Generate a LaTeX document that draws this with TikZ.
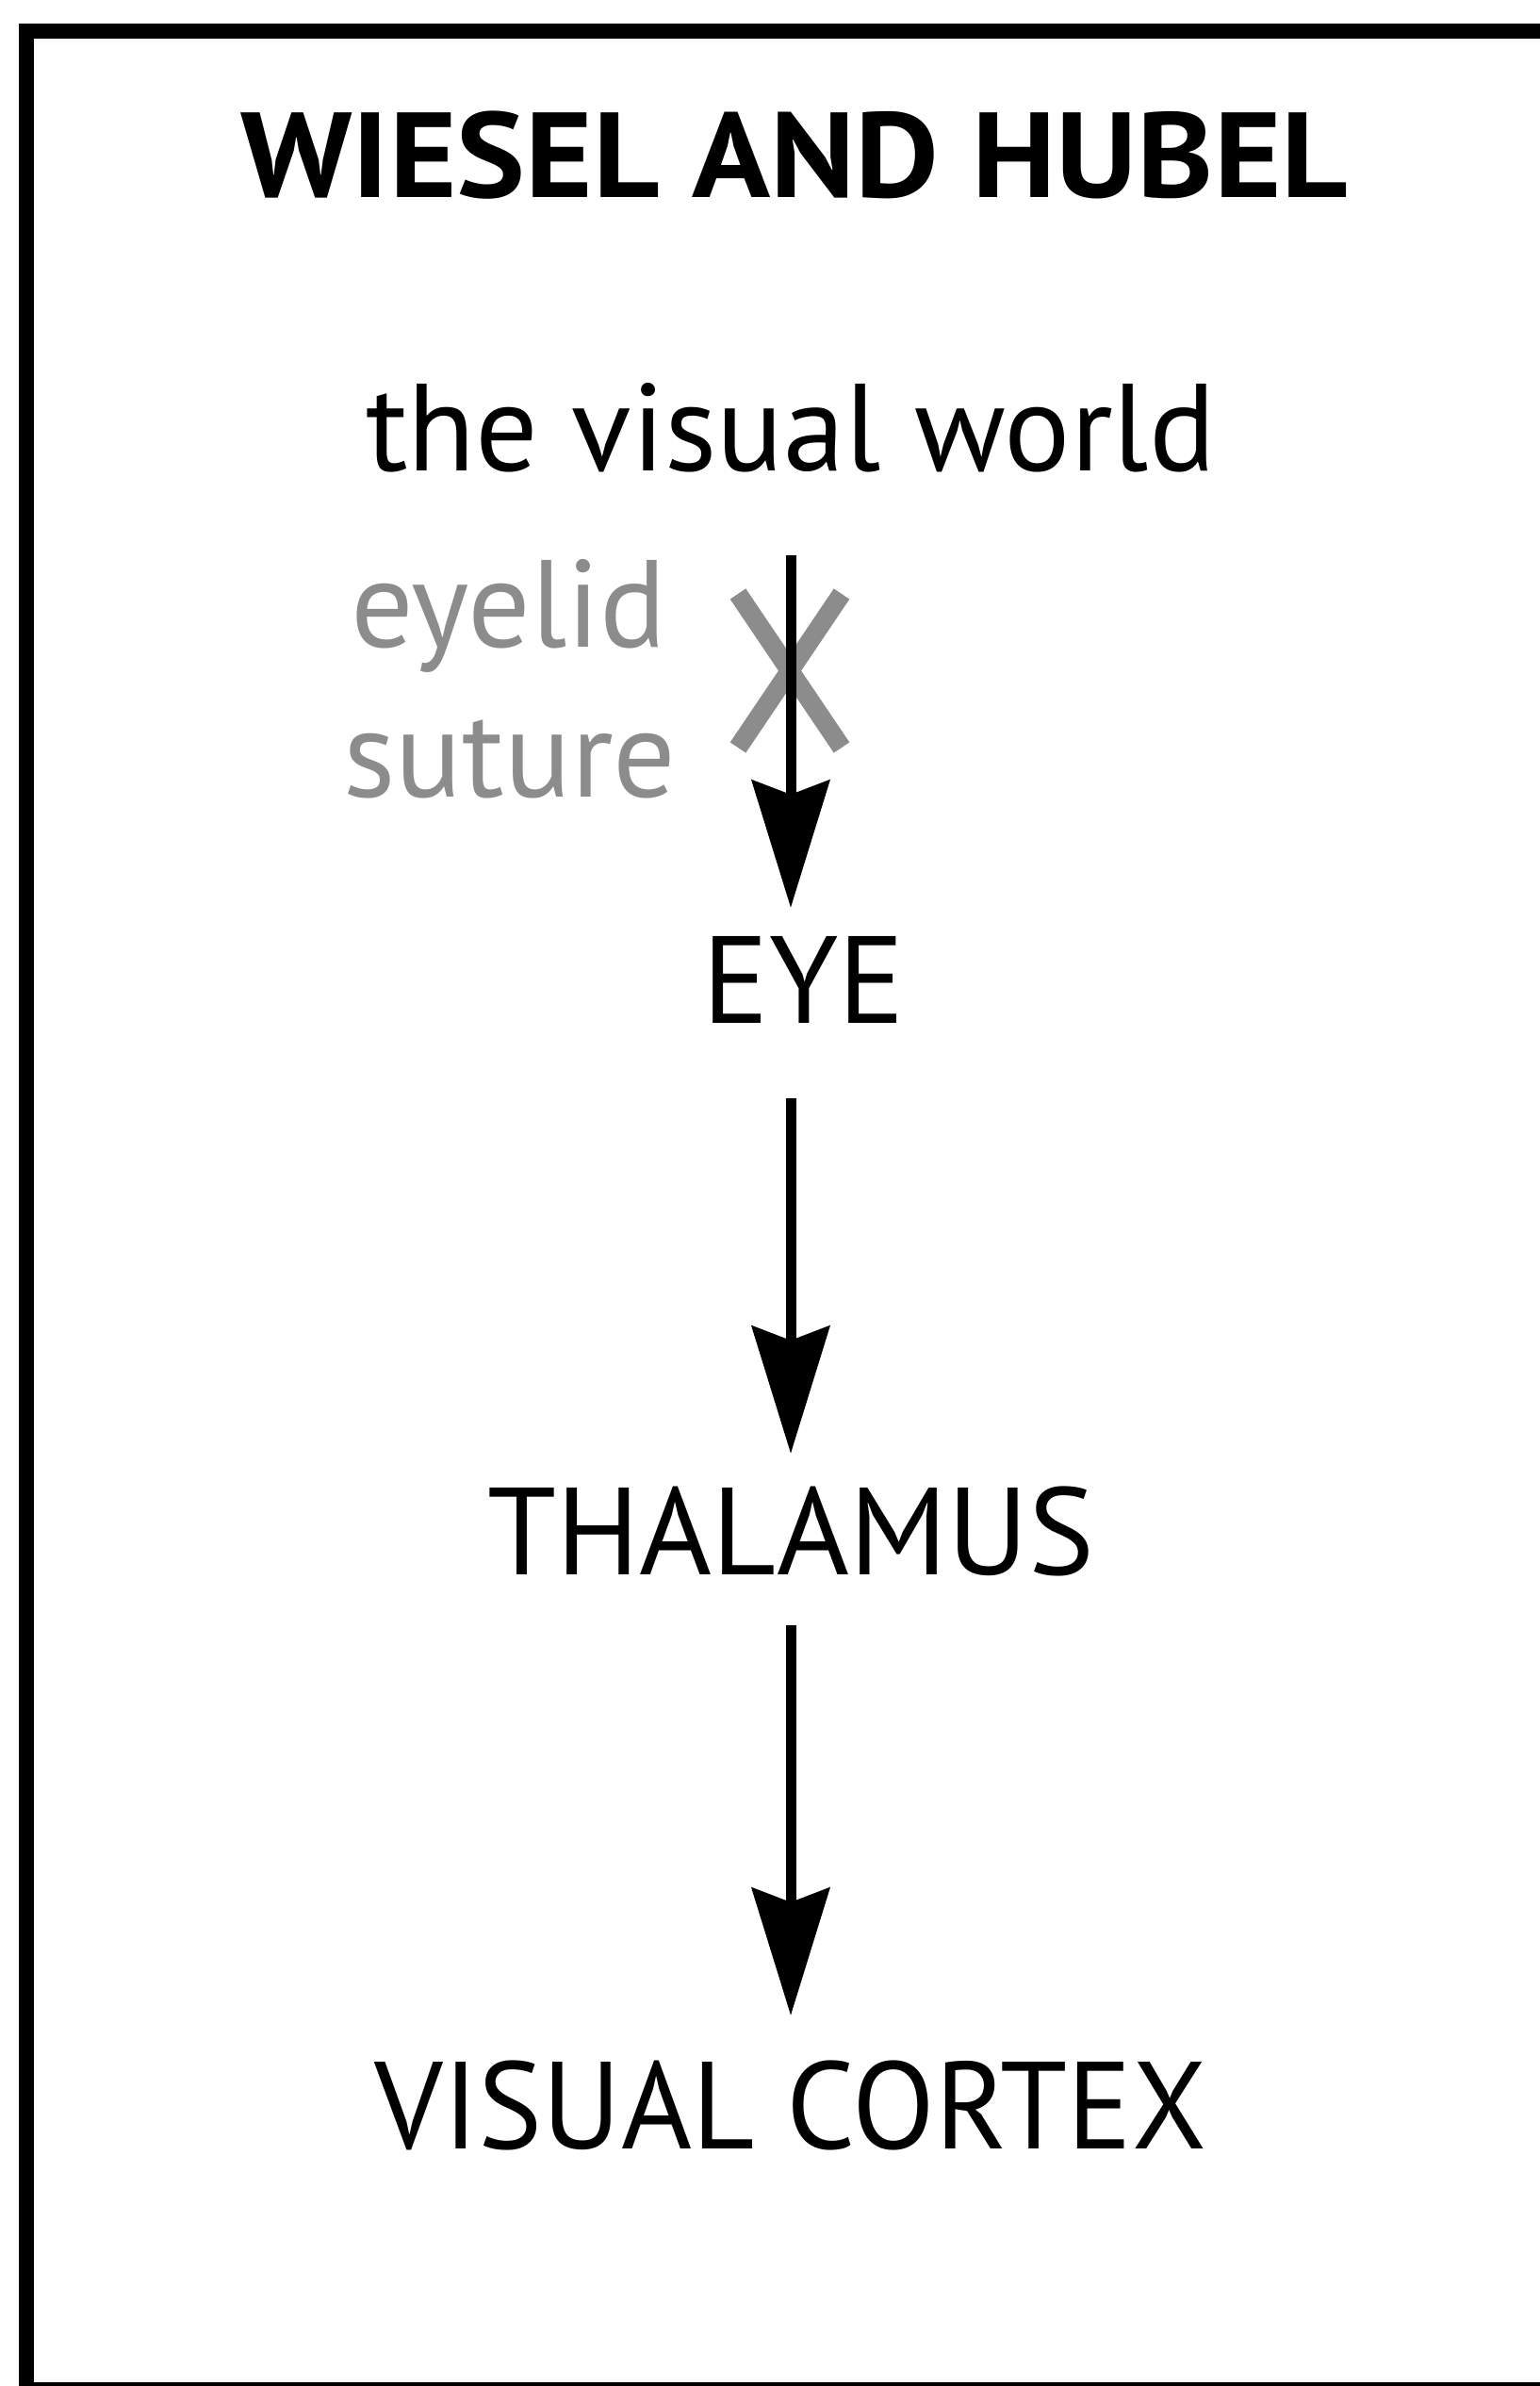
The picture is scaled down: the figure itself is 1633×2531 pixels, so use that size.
\documentclass[tikz,border=0pt]{standalone}
\usepackage{fontspec}
\setmainfont{PT Sans}
\newfontfamily\headfont{PT Sans}[FakeStretch=1.07]
\newfontfamily\longfont{PT Sans}[FakeStretch=0.975]
\usetikzlibrary{arrows.meta}

\begin{document}
\begin{tikzpicture}[
  x=0.01cm, y=-0.01cm,
  every node/.style={inner sep=0pt, outer sep=0pt, text height=0.92cm, text depth=0pt, anchor=south},
  heading/.style={font=\headfont\bfseries\fontsize{36.5pt}{44pt}\selectfont},
  stage/.style={font=\fontsize{37.4pt}{44pt}\selectfont},
  note/.style={font=\fontsize{37.4pt}{44pt}\selectfont, text=black!45},
  flow/.style={draw, line width=0.11cm, -{Stealth[length=1.35cm, width=0.82cm, inset=0.15cm]}},
  cross/.style={draw=black!45, line width=0.2cm},
  frame/.style={draw, line width=0.16cm}
]
\useasboundingbox (0,0) rectangle (1633,2531);
\draw[frame] (28,33) rectangle (1700,2535);

\node[heading] (title) at (843,210) {WIESEL AND HUBEL};
\node[stage] (world) at (839,500) {the visual world};
\node[note] (lid) at (540,686) {eyelid};
\node[note] (suture) at (541,845) {suture};
\node[stage] (eye) at (853,1085) {EYE};
\node[stage] (thal) at (839,1670) {THALAMUS};
\node[stage, font=\longfont\fontsize{37.4pt}{44pt}\selectfont] (cortex) at (839,2279) {VISUAL CORTEX};

% the sutured eyelid blocks the input
\draw[cross] (783,630) -- (893,793);
\draw[cross] (893,630) -- (783,793);

\draw[flow, shorten <=0.89cm, shorten >=0.30cm] (world.south) -- (eye.north -| world.south);
\draw[flow, shorten <=0.80cm, shorten >=0.36cm] (eye.south -| thal.north) -- (thal.north);
\draw[flow, shorten <=0.54cm, shorten >=0.49cm] (thal.south) -- (cortex.north);
\end{tikzpicture}
\end{document}
